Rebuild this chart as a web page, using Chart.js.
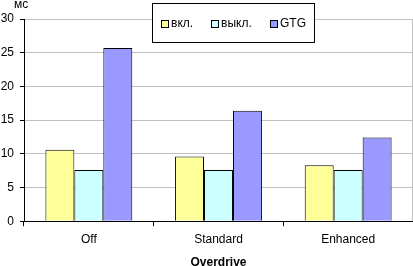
<!DOCTYPE html>
<html>
<head>
<meta charset="utf-8">
<script src="https://cdn.jsdelivr.net/npm/chart.js@4/dist/chart.umd.min.js"></script>
<style>
  body { margin: 0; background: #fff; }
  canvas { display: block; }
</style>
</head>
<body>
<canvas id="chart" width="413" height="266"></canvas>
<script>
// Chart data
const categories = ["Off", "Standard", "Enhanced"];
const seriesNames = ["вкл.", "выкл.", "GTG"];
const onValues = [10.6, 9.6, 8.3];
const offValues = [7.6, 7.6, 7.6];
const gtgValues = [25.7, 16.4, 12.4];
const yTicks = [0, 5, 10, 15, 20, 25, 30];
const unitLabel = "мс";
const xTitle = "Overdrive";

const colors = ["#ffff99", "#ccffff", "#9999ff"];
const font = "Liberation Sans, Arial, sans-serif";

// Draws the unit label, right border and the boxed legend
const extras = {
  id: "extras",
  afterDraw(chart) {
    const ctx = chart.ctx;
    const area = chart.chartArea;
    ctx.save();
    ctx.strokeStyle = "#c0c0c0";
    ctx.lineWidth = 1;
    ctx.beginPath();
    ctx.moveTo(Math.round(area.right) - 0.5, area.top);
    ctx.lineTo(Math.round(area.right) - 0.5, area.bottom);
    ctx.stroke();

    ctx.fillStyle = "#000";
    ctx.font = "12px " + font;
    ctx.textAlign = "left";
    ctx.textBaseline = "middle";
    ctx.fillText(unitLabel, 14, 5);

    // legend box
    ctx.fillStyle = "#fff";
    ctx.fillRect(152, 3, 162, 39);
    ctx.strokeStyle = "#000";
    ctx.strokeRect(152.5, 3.5, 162, 39);
    const xs = [161, 211, 270];
    chart.data.datasets.forEach((ds, i) => {
      ctx.fillStyle = ds.backgroundColor;
      ctx.fillRect(xs[i], 20, 7, 7);
      ctx.strokeRect(xs[i] + 0.5, 20.5, 7, 7);
      ctx.fillStyle = "#000";
      ctx.fillText(ds.label, xs[i] + 10, 24);
    });
    ctx.restore();
  },
};

const datasets = [onValues, offValues, gtgValues].map((values, i) => ({
  label: seriesNames[i],
  data: values,
  backgroundColor: colors[i],
  borderColor: "#000",
  borderWidth: 1,
  categoryPercentage: 0.67,
  barPercentage: 1.0,
}));

new Chart(document.getElementById("chart"), {
  type: "bar",
  data: { labels: categories, datasets: datasets },
  options: {
    responsive: false,
    animation: false,
    layout: { padding: { top: 19, left: 0, right: -6, bottom: -4 } },
    plugins: {
      legend: { display: false },
      tooltip: { enabled: false },
    },
    scales: {
      x: {
        grid: { drawOnChartArea: false, tickLength: 5, tickColor: "#000" },
        border: { color: "#000" },
        ticks: { color: "#000", font: { family: font, size: 12 }, padding: 6 },
        title: {
          display: true,
          text: xTitle,
          color: "#000",
          font: { family: font, size: 12, weight: "bold" },
          padding: { top: 3, bottom: 0 },
        },
      },
      y: {
        min: 0,
        max: 30,
        afterBuildTicks(scale) {
          scale.ticks = yTicks.map((v) => ({ value: v }));
        },
        afterFit(scale) {
          scale.width = 24;
        },
        grid: { color: "#c0c0c0", tickColor: "#000", tickLength: 4 },
        border: { color: "#000" },
        ticks: { color: "#000", font: { family: font, size: 12 }, padding: 6 },
      },
    },
  },
  plugins: [extras],
});
</script>
</body>
</html>
